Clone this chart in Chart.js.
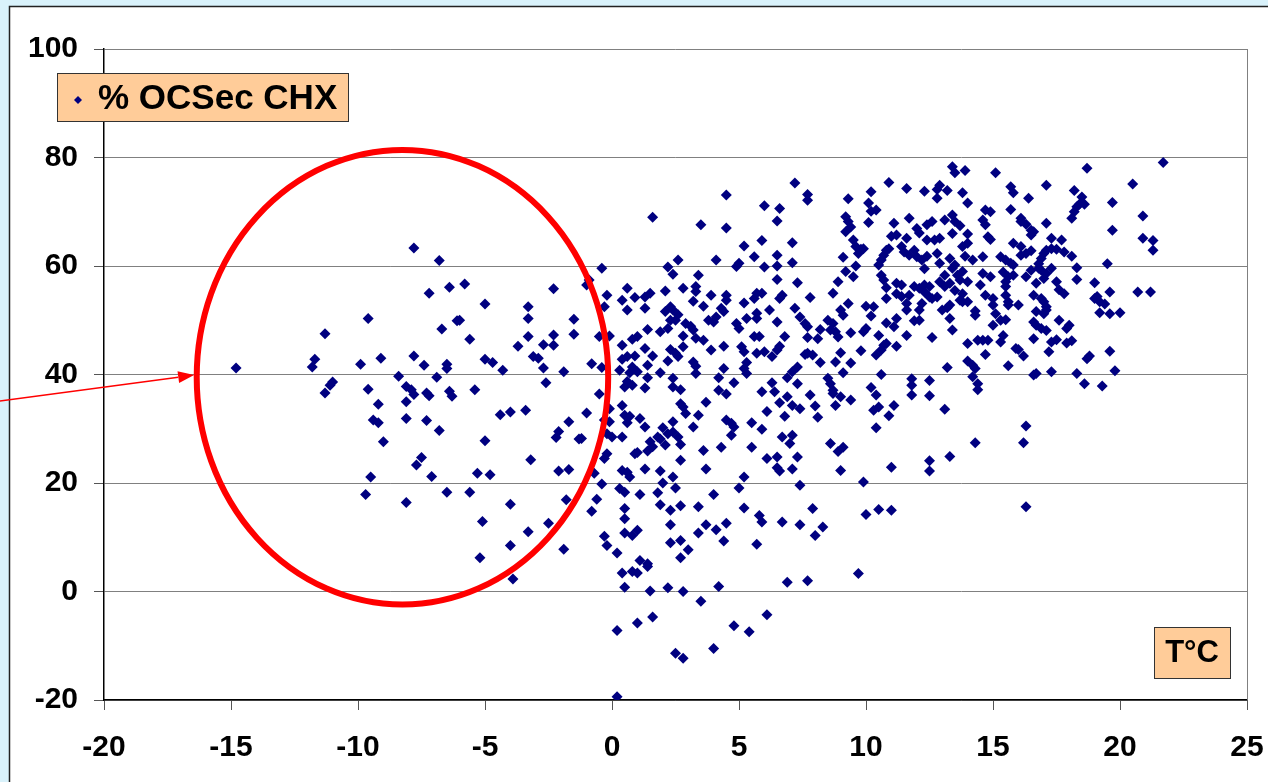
<!DOCTYPE html>
<html>
<head>
<meta charset="utf-8">
<script src="https://cdn.jsdelivr.net/npm/chart.js@4"></script>
<style>
  html, body { margin: 0; padding: 0; background: #d9f2fb; overflow: hidden; }
  #chart { display: block; }
</style>
</head>
<body>
<canvas id="chart" width="1268" height="782"></canvas>
<script>
// [T°C, % OCSec CHX], grouped by area of the plot
const coldPoints = [
  [-7.8,63.3],[-6.8,61.0],[-6.4,56.1],[-5.8,56.7],[-7.2,55.0],[-2.3,55.8],[-5.0,53.0],[-3.3,52.5],
  [-9.6,50.3],[-3.3,50.3],[-1.5,50.2],[-6.1,49.9],[-6.0,50.0],[-6.7,48.4],[-11.3,47.5],[-1.5,47.4],
  [-2.3,47.3],[-3.3,47.0],[-5.6,46.5],[-2.7,45.5],[-2.3,45.4],[-3.7,45.2],[-11.7,42.8],[-11.8,41.4],
  [-9.1,43.0],[-7.8,43.4],[-14.8,41.2],[-9.9,41.9],[-7.4,41.7],[-6.5,41.9],[-6.5,41.1],[-5.0,42.8],
  [-4.7,42.2],[-4.3,40.8],[-3.1,43.3],[-2.9,43.0],[-2.7,41.2],[-1.9,40.5],[-8.4,39.7],[-6.9,39.5],
  [-11.0,38.6],[-11.1,38.0],[-11.3,36.6],[-9.6,37.3],[-8.1,37.8],[-7.9,37.2],[-7.8,36.3],[-7.3,36.6],
  [-7.2,36.1],[-6.4,36.9],[-6.3,36.0],[-5.4,37.2],[-2.6,38.5],[-9.2,34.5],[-8.1,35.0],[-9.4,31.6],
  [-9.2,31.1],[-8.1,31.9],[-7.3,31.5],[-6.8,29.7],[-4.4,32.6],[-4.0,33.1],[-3.4,33.4],[-1.7,31.3],
  [-2.1,29.5],[-2.2,28.4],[-1.3,28.1],[-9.0,27.6],[-5.0,27.8],[-7.5,24.7],[-7.7,23.3],[-3.2,24.3],
  [-9.5,21.1],[-7.1,21.2],[-5.3,21.8],[-4.8,21.5],[-2.1,22.2],[-1.7,22.5],[-0.7,21.8],[-9.7,17.9],
  [-8.1,16.4],[-6.5,18.3],[-5.6,18.3],[-4.0,16.1],[-1.8,16.9],[-5.1,12.9],[-3.3,11.0],[-2.5,12.6],
  [-4.0,8.5],[-5.2,6.2],[-1.9,7.8],[-3.9,2.3]
];

const midHighPoints = [
  [1.6,69.0],[3.5,67.6],[4.5,73.1],[4.5,67.0],[6.0,71.1],[6.6,70.6],[6.5,68.3],[7.2,75.3],[7.7,73.2],[7.7,72.1],
  [5.2,63.7],[5.9,64.7],[7.1,64.3],[5.6,61.7],[6.5,62.0],[7.1,60.6],[4.1,61.1],[2.6,61.1],[4.9,59.9],[5.0,60.5],
  [6.0,59.8],[6.5,60.0],[-0.4,59.6],[2.2,59.8],[2.4,58.5],[3.4,58.3],[6.5,57.5],[7.3,56.9],[-1.0,56.5],[-0.9,57.4],
  [0.6,55.9],[-0.2,54.6],[0.4,53.7],[0.9,54.2],[1.3,54.3],[1.5,55.0],[2.1,55.4],[2.8,55.9],[3.3,56.2],[3.3,55.3],
  [3.9,54.6],[4.5,54.6],[4.5,53.7],[3.2,53.5],[3.6,52.6],[0.6,51.9],[1.3,52.2],[2.3,52.5],[2.1,51.6],[2.4,51.9],
  [2.6,51.0],[4.3,52.2],[4.4,51.6],[4.1,50.6],[5.2,53.2],[5.6,54.0],[5.7,55.0],[5.9,55.0],[6.6,54.0],[6.7,54.6],
  [7.8,54.2],[7.2,52.2],[6.2,51.9],[5.3,50.3],[5.7,51.3],[5.7,50.3],[7.4,50.6],[-0.3,52.5],
  [2.3,50.0],[2.5,50.0],[2.9,49.4],[3.1,48.9],[3.2,48.2],[3.8,50.0],[4.0,49.7],[4.9,49.4],[5.0,48.5],[6.5,49.7],
  [7.6,49.4],[8.5,50.0],[8.6,48.2],[8.2,48.3],[7.7,48.8],[1.4,48.3],[1.9,47.9],[2.2,48.5],[2.8,47.1],[3.3,46.7],
  [3.6,46.3],[1.0,47.0],[0.8,46.5],[-0.1,47.1],[-0.5,47.0],[5.6,47.0],[5.8,47.0],[6.8,47.0],[7.7,46.8],[8.1,46.6],
  [0.4,45.4],[1.3,44.8],[2.3,44.6],[2.8,45.1],[2.5,43.9],[3.9,44.5],[4.4,45.2],[5.1,45.1],[5.7,43.9],[6.0,44.2],
  [6.6,45.2],[6.5,44.5],[5.2,44.2],
  [7.7,43.9],[7.9,43.6],[8.2,42.2],[7.6,43.7],[6.3,43.3],[0.4,42.8],[0.6,43.3],[0.9,43.4],[1.6,43.4],[2.2,42.5],
  [2.6,43.3],[3.2,42.3],[3.3,41.5],[1.4,41.7],[0.8,41.4],[0.3,40.8],[0.7,40.3],[1.0,40.5],[-0.8,42.0],[-0.4,41.3],
  [1.9,40.3],[3.3,40.2],[4.4,41.1],[5.2,41.1],[5.3,42.2],[7.3,41.4],[7.1,40.5],[5.3,40.2],[2.4,39.3],[4.2,39.4],
  [1.4,39.4],[0.6,38.7],[0.8,38.0],[0.5,37.7],[2.4,37.7],[2.7,37.2],[4.8,38.5],[6.3,38.5],[6.9,39.4],[7.3,38.3],
  [8.5,39.3]
];

const midLowPoints = [
  [1.3,37.5],[-0.5,36.4],[4.2,37.1],[4.5,36.4],[5.9,36.8],[6.4,36.8],[6.9,35.9],[6.6,34.8],[7.8,36.2],[8.7,36.5],
  [9.0,35.9],[0.4,34.3],[0.5,32.5],[0.7,32.3],[1.1,31.9],[2.7,34.6],[2.8,34.0],[2.9,32.8],[3.4,32.5],[3.7,34.9],
  [7.1,34.3],[7.4,33.7],[8.0,34.2],[8.1,32.1],[6.1,33.2],[6.8,32.3],[-1.0,32.9],[-0.1,33.7],
  [-0.3,31.6],[-0.1,31.3],[0.6,31.1],[1.3,30.3],[2.0,30.2],[2.4,31.3],[3.2,30.3],[4.5,31.6],[4.7,31.0],[4.8,30.3],
  [5.5,31.1],[5.9,29.9],[-0.2,29.1],[0.0,28.5],[0.4,28.5],[1.8,28.5],[1.9,28.1],[2.2,29.1],[2.4,29.4],[2.6,28.5],
  [2.1,27.0],[2.7,27.1],[4.7,28.8],[6.7,28.5],[7.1,28.8],[1.5,27.6],[1.6,26.7],[1.4,25.9],[1.0,25.6],[-0.2,25.4],
  [3.6,26.0],[4.3,26.6],[5.5,26.6],[7.0,27.3],[-1.2,28.2],
  [-0.3,24.5],[0.9,25.4],[2.7,24.2],[6.1,24.5],[6.5,24.8],[7.3,24.8],[0.4,22.3],[0.6,22.0],[0.7,21.1],[1.3,22.6],
  [1.9,22.2],[3.7,22.6],[6.5,22.8],[6.6,22.2],[7.1,22.6],[2.4,21.1],[5.2,21.1],
  [-0.4,19.8],[0.3,19.0],[0.5,18.3],[1.1,17.9],[1.8,18.2],[2.0,20.0],[2.5,19.1],[-0.6,17.0],[-0.8,14.8],[0.5,15.3],
  [0.5,13.4],[1.9,16.0],[2.3,15.0],[2.7,15.8],[3.4,15.6],[4.0,17.9],[5.0,19.1],[5.2,15.4],[5.8,14.0],[5.9,12.8],
  [6.7,12.8],[7.4,19.6],[7.9,15.3],[8.3,11.9],[8.0,10.3],[7.4,12.3],[-0.3,10.2],[-0.2,8.5],[0.2,7.1],[0.5,10.8],
  [0.8,10.3],[1.0,11.3],[2.3,12.3],[2.3,9.0],[2.7,9.4],[3.0,7.7],[2.7,6.2],[3.4,10.8],[3.7,12.3],[4.1,11.4],
  [4.5,12.6],[4.4,9.3],[5.7,8.7],[1.1,5.7],[1.4,5.1],[1.4,4.6],[0.4,3.4],[0.8,3.7],[1.0,3.4],[0.5,0.8],
  [1.5,0.1],[2.2,0.7],[2.8,0.0],[4.2,0.9],[3.5,-1.8],[6.9,1.7],[7.7,2.0],[1.0,-5.8],[1.6,-4.7],[0.2,-7.2],
  [2.5,-11.4],[2.8,-12.3],[4.0,-10.5],[4.8,-6.3],[5.4,-7.4],[6.1,-4.3],[0.2,-19.4]
];

const warmPoints = [
  [13.4,78.3],[13.5,77.2],[13.9,77.6],[15.1,77.2],[10.9,75.4],[11.6,74.3],[12.3,73.8],[12.9,74.9],[12.8,74.1],[13.2,73.9],
  [12.8,72.5],[13.8,73.5],[14.0,71.6],[10.2,73.7],[9.3,72.4],[10.1,71.6],[10.2,70.1],[10.4,70.3],
  [9.2,69.1],[9.3,68.2],[9.4,67.2],[9.2,66.3],[10.1,68.0],[11.7,68.8],[11.1,67.9],[11.0,65.5],[11.2,65.7],[12.0,66.9],
  [12.1,66.1],[12.4,67.6],[12.6,68.2],[13.1,68.5],[13.4,69.4],[13.5,68.2],[13.7,67.4],[14.0,65.9],[13.4,66.0],[12.9,65.1],
  [12.7,64.8],[12.4,64.8],[11.6,65.1],[14.7,70.3],[14.9,70.0],[14.6,68.5],[14.7,67.6],[14.8,65.4],[14.9,64.9],
  [9.5,64.8],[9.6,63.6],[9.8,63.1],[9.9,63.2],[9.7,62.3],[9.1,61.6],[10.8,62.9],[10.9,63.2],[10.7,62.0],[10.6,61.1],
  [10.5,60.2],[11.4,63.6],[11.5,62.6],[11.7,62.0],[11.9,62.9],[12.0,61.7],[12.2,61.1],[12.4,61.8],[12.8,62.3],[12.9,60.5],
  [13.3,61.4],[13.5,60.2],[13.8,63.6],[14.0,64.2],[13.9,61.8],[14.2,61.1],[14.6,61.7],[9.6,60.0],
  [9.2,59.0],[8.9,57.1],[8.7,55.0],[9.5,58.0],[10.6,58.3],[10.7,57.4],[10.8,56.0],[11.2,56.8],[11.4,56.5],[11.2,54.9],
  [11.4,54.4],[11.7,54.6],[11.9,56.2],[12.1,55.9],[12.3,56.5],[12.3,55.2],[12.5,56.2],[12.3,59.5],[12.5,54.3],[13.1,58.3],
  [12.9,57.1],[13.1,56.2],[13.3,56.8],[13.4,59.6],[13.6,58.3],[13.7,57.4],[13.8,59.0],[14.0,57.1],[14.6,58.6],[14.5,56.5],
  [14.9,58.0],[14.7,54.6],[15.0,54.0],[13.8,54.9],[14.0,53.4],[13.5,55.5],[12.8,54.3],
  [9.3,53.1],[9.0,51.9],[9.1,50.9],[10.0,52.6],[10.3,52.5],[10.2,50.8],[10.8,54.0],[11.6,53.1],[11.6,51.9],[12.2,53.1],
  [12.1,51.9],[12.1,50.0],[11.9,49.9],[12.6,54.0],[13.0,51.9],[13.2,52.3],[13.3,52.8],[13.3,50.3],[13.7,53.7],[13.8,53.4],
  [14.3,51.7],[14.3,50.9],[15.0,52.8],[15.1,51.2],[15.0,49.1],[11.2,50.3],[11.1,48.8],[10.8,49.5],[8.7,49.4],
  [8.8,47.9],[8.9,46.9],[9.4,47.7],[9.9,47.9],[10.0,48.5],[10.5,47.2],[11.6,47.2],[12.6,46.8],[13.4,48.2],[14.0,45.7],
  [14.4,46.3],[14.6,46.3],[14.8,46.3],[10.7,45.4],[10.8,45.7],[10.6,44.5],[10.4,43.6],[11.2,45.2],[9.8,44.4],[9.0,44.0],
  [8.8,42.3],[9.4,42.1],[14.7,43.7],[14.0,42.5],[14.2,41.7],[14.3,41.1],[13.2,41.3],[10.6,40.0],[9.1,40.3],
  [8.6,38.3],[8.7,37.1],[11.8,39.2],[11.8,38.0],[12.5,38.9],[10.2,37.6],[14.2,39.6],[14.4,38.3],[14.4,37.2],
  [8.8,34.3],[9.4,35.3],[10.4,36.2],[10.3,33.4],[10.5,34.0],[11.1,34.3],[10.9,32.4],[11.8,36.2],[12.5,36.1],[13.1,33.6],
  [10.4,30.2],[16.3,30.5],[16.2,27.4],[14.3,27.4],[8.6,27.3],[8.9,25.8],[9.1,26.6],[13.3,24.9],[12.5,24.1],[12.5,22.2],
  [11.0,22.9],[9.0,22.3],[9.9,20.2],[10.0,14.2],[10.5,15.1],[11.0,15.0],[16.3,15.6],[9.7,3.3]
];

const hotPoints = [
  [21.7,79.1],[18.7,78.0],[20.5,75.1],[17.1,74.9],[15.7,74.6],[15.8,73.5],[16.4,72.5],[18.2,73.9],[18.5,72.7],[18.4,71.4],
  [18.3,70.9],[18.2,70.0],[18.1,68.8],[18.6,71.4],[19.7,71.7],[15.7,70.4],[20.9,69.2],[16.1,68.8],[16.1,68.2],[16.3,67.7],
  [17.1,67.9],[16.5,66.6],[16.5,65.7],[16.6,66.3],[19.7,66.6],[20.9,65.1],[21.3,64.7],[21.3,62.9],[17.3,65.1],[17.7,64.8],
  [15.8,64.2],[16.1,63.6],[16.1,62.0],[16.3,62.3],[16.5,62.8],[17.0,62.3],[17.1,62.9],[17.3,63.2],[17.5,63.1],[17.8,62.6],
  [18.1,61.8],[16.9,61.4],[15.3,61.7],[15.5,61.1],[15.7,60.5],[15.8,60.2],[16.8,60.4],[19.5,60.4],[18.3,59.7],[15.4,58.9],
  [15.6,58.0],[15.8,58.3],[15.5,57.1],[15.5,56.2],[16.3,58.0],[16.5,59.2],[16.8,59.6],[16.9,59.2],[17.3,59.6],[17.1,58.6],
  [17.0,57.7],[16.7,56.8],[18.3,57.5],[17.5,57.1],[17.6,55.6],[17.8,54.9],[19.0,56.9],[19.6,55.2],[20.7,55.2],[21.2,55.2],
  [15.5,54.6],[15.6,53.4],[15.6,52.8],[16.0,52.8],[16.6,54.6],[16.9,54.0],[17.0,53.4],[17.1,52.5],[17.1,51.9],[17.0,51.2],
  [16.7,51.6],[19.0,54.0],[19.1,54.4],[19.2,53.4],[19.4,53.0],[19.2,51.4],[19.6,51.2],[20.0,51.4],[15.3,50.0],[15.5,50.1],
  [16.6,49.7],[16.7,49.1],[16.9,48.5],[17.1,48.1],[17.6,50.0],[18.0,49.1],[17.9,48.5],[15.4,47.2],[15.3,46.0],[16.6,46.6],
  [17.3,46.0],[17.5,46.4],[17.9,45.8],[18.1,46.2],[15.9,44.8],[16.0,44.6],[16.2,43.4],[17.2,44.2],[18.7,42.9],[18.8,43.4],
  [19.6,44.3],[15.6,41.6],[16.6,39.9],[16.7,40.2],[17.3,40.5],[18.3,40.2],[19.8,40.7],[18.6,38.3],[19.3,37.9]
];

const xTicks = [-20, -15, -10, -5, 0, 5, 10, 15, 20, 25];
const yTicks = [-20, 0, 20, 40, 60, 80, 100];
const seriesLabel = '% OCSec CHX';
const xTitle = 'T°C';

// red ring around the cold readings + pointer arrow (in data units)
const ring = { cx: -8.25, cy: 39.5, rx: 8.1, ry: 41.9 };
const pointer = { from: [-24.1, 35.1], to: [-16.45, 39.9] };

const allPoints = [...coldPoints, ...midHighPoints, ...midLowPoints, ...warmPoints, ...hotPoints]
  .map(p => ({ x: p[0], y: p[1] }));

const FONT = "'Liberation Sans', Arial, sans-serif";
const NAVY = '#000080';
const PEACH = '#ffcc99';

const framePlugin = {
  id: 'frame',
  beforeDraw(chart) {
    const ctx = chart.ctx;
    ctx.save();
    ctx.fillStyle = '#d9f2fb';
    ctx.fillRect(0, 0, chart.width, chart.height);
    ctx.fillStyle = '#ffffff';
    ctx.fillRect(9, 6, chart.width - 9, chart.height - 6);
    ctx.strokeStyle = '#222';
    ctx.lineWidth = 1.5;
    ctx.beginPath();
    ctx.moveTo(9.5, chart.height);
    ctx.lineTo(9.5, 6.5);
    ctx.lineTo(chart.width, 6.5);
    ctx.stroke();
    ctx.restore();
  },
  afterDatasetsDraw(chart) {
    const ctx = chart.ctx;
    const xs = chart.scales.x, ys = chart.scales.y;
    const area = chart.chartArea;
    ctx.save();
    // right border of plot
    ctx.strokeStyle = '#808080';
    ctx.lineWidth = 1;
    ctx.beginPath();
    ctx.moveTo(Math.round(area.right) + 0.5, area.top);
    ctx.lineTo(Math.round(area.right) + 0.5, area.bottom);
    ctx.stroke();

    // ring
    const cx = xs.getPixelForValue(ring.cx), cy = ys.getPixelForValue(ring.cy);
    const rx = xs.getPixelForValue(ring.cx + ring.rx) - cx;
    const ry = cy - ys.getPixelForValue(ring.cy + ring.ry);
    ctx.strokeStyle = '#ff0000';
    ctx.lineWidth = 6;
    ctx.beginPath();
    ctx.ellipse(cx, cy, rx, ry, 0, 0, Math.PI * 2);
    ctx.stroke();

    // arrow
    const x0 = xs.getPixelForValue(pointer.from[0]), y0 = ys.getPixelForValue(pointer.from[1]);
    const x1 = xs.getPixelForValue(pointer.to[0]), y1 = ys.getPixelForValue(pointer.to[1]);
    const ang = Math.atan2(y1 - y0, x1 - x0);
    const headLen = 16, headW = 6;
    const bx = x1 - Math.cos(ang) * headLen, by = y1 - Math.sin(ang) * headLen;
    ctx.lineWidth = 1.5;
    ctx.beginPath();
    ctx.moveTo(x0, y0);
    ctx.lineTo(bx, by);
    ctx.stroke();
    ctx.fillStyle = '#ff0000';
    ctx.beginPath();
    ctx.moveTo(x1, y1);
    ctx.lineTo(bx - Math.sin(ang) * headW, by + Math.cos(ang) * headW);
    ctx.lineTo(bx + Math.sin(ang) * headW, by - Math.cos(ang) * headW);
    ctx.closePath();
    ctx.fill();
    ctx.restore();
  },
  afterDraw(chart) {
    const ctx = chart.ctx;
    ctx.save();
    // legend box
    ctx.fillStyle = PEACH;
    ctx.fillRect(57, 73, 291, 48);
    ctx.strokeStyle = '#333';
    ctx.lineWidth = 1;
    ctx.strokeRect(57.5, 73.5, 291, 48);
    ctx.fillStyle = NAVY;
    ctx.beginPath();
    ctx.moveTo(78, 96); ctx.lineTo(82, 100); ctx.lineTo(78, 104); ctx.lineTo(74, 100);
    ctx.closePath();
    ctx.fill();
    ctx.fillStyle = '#000';
    ctx.font = 'bold 35px ' + FONT;
    ctx.textBaseline = 'middle';
    ctx.textAlign = 'left';
    ctx.fillText(seriesLabel, 98, 99);

    // axis title box
    ctx.fillStyle = PEACH;
    ctx.fillRect(1154, 627, 76, 51);
    ctx.strokeRect(1154.5, 627.5, 76, 51);
    ctx.fillStyle = '#000';
    ctx.font = 'bold 31px ' + FONT;
    ctx.textAlign = 'center';
    ctx.fillText(xTitle, 1192, 653);
    ctx.restore();
  }
};

new Chart(document.getElementById('chart'), {
  type: 'scatter',
  data: {
    datasets: [{
      label: seriesLabel,
      data: allPoints,
      pointStyle: 'rectRot',
      pointRadius: 5.5,
      pointHoverRadius: 5.5,
      backgroundColor: NAVY,
      borderColor: NAVY,
      borderWidth: 0
    }]
  },
  options: {
    responsive: false,
    animation: false,
    events: [],
    layout: { padding: { left: 0, top: 49, right: 21, bottom: 0 } },
    plugins: { legend: { display: false }, tooltip: { enabled: false } },
    scales: {
      x: {
        type: 'linear',
        min: -20, max: 25,
        afterBuildTicks: s => { s.ticks = xTicks.map(v => ({ value: v })); },
        afterFit: s => { s.height = 82; s.paddingLeft = 0; s.paddingRight = 0; },
        grid: { drawOnChartArea: false, drawTicks: true, tickLength: 10, color: '#555', lineWidth: 1 },
        border: { color: '#000', width: 1.5 },
        ticks: { color: '#000', padding: 20, font: { family: FONT, size: 30, weight: 'bold' }, maxRotation: 0 }
      },
      y: {
        min: -20, max: 100,
        afterBuildTicks: s => { s.ticks = yTicks.map(v => ({ value: v })); },
        afterFit: s => { s.width = 104; s.paddingTop = 0; s.paddingBottom = 0; },
        grid: { color: '#808080', lineWidth: 1, tickLength: 10, tickColor: '#555' },
        border: { color: '#000', width: 1.5 },
        ticks: { color: '#000', padding: 16, font: { family: FONT, size: 30, weight: 'bold' } }
      }
    }
  },
  plugins: [framePlugin]
});
</script>
</body>
</html>
